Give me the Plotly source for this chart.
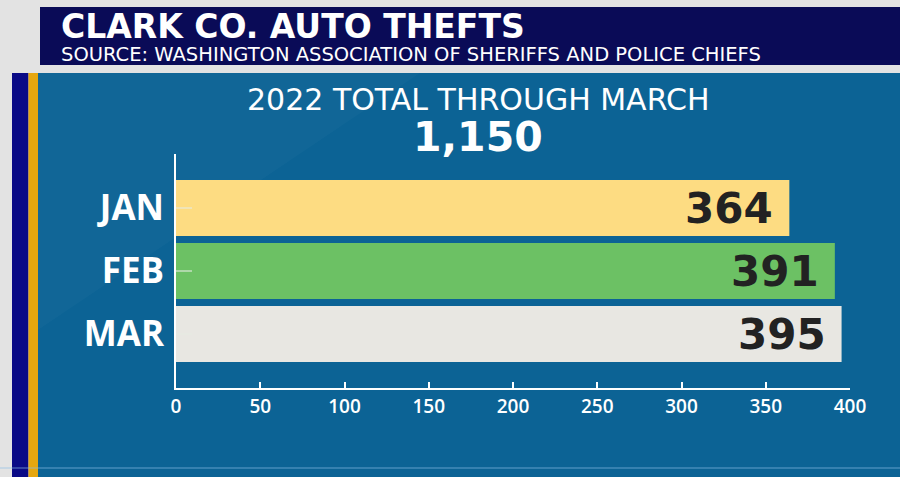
import plotly.graph_objects as go

# ---- data ----
months = ["JAN", "FEB", "MAR"]
thefts = [364, 391, 395]
bar_colors = ["#fddc82", "#6cc164", "#e8e7e2"]
total_label = "1,150"
x_ticks = [0, 50, 100, 150, 200, 250, 300, 350, 400]

title = "CLARK CO. AUTO THEFTS"
subtitle = "SOURCE: WASHINGTON ASSOCIATION OF SHERIFFS AND POLICE CHIEFS"
headline = "2022 TOTAL THROUGH MARCH"

W, H = 900, 477
ML, MR, MT, MB = 176, 50, 154, 89
PW, PH = W - ML - MR, H - MT - MB


def px(x):
    return (x - ML) / PW


def py(y):
    return (H - MB - y) / PH


fig = go.Figure()
fig.add_trace(go.Bar(
    x=thefts, y=months, orientation="h",
    marker=dict(color=bar_colors, line=dict(width=0)),
    hoverinfo="skip",
))

shapes = []
def rect(x0, y0, x1, y1, color):
    shapes.append(dict(type="rect", xref="paper", yref="paper",
                       x0=px(x0), x1=px(x1), y0=py(y1), y1=py(y0),
                       fillcolor=color, line=dict(width=0), layer="below"))

# blue panel
rect(38, 73, 900, 477, "#0c6395")
# subtle diagonal lighter region
shapes.append(dict(type="path", xref="paper", yref="paper",
                   path=f"M {px(38)},{py(73)} L {px(420)},{py(73)} L {px(38)},{py(330)} Z",
                   fillcolor="rgba(255,255,255,0.025)", line=dict(width=0), layer="below"))
# left stripes
rect(12, 73, 28.5, 477, "#0a0a86")
rect(28.5, 73, 38, 477, "#e6a70f")
# header bar
rect(40, 7, 900, 65, "#0a0b57")
# bottom faint line
shapes.append(dict(type="line", xref="paper", yref="paper",
                   x0=px(0), x1=px(900), y0=py(468), y1=py(468),
                   line=dict(color="rgba(140,190,230,0.45)", width=1.5), layer="below"))

annotations = [
    dict(xref="paper", yref="paper", x=px(59), y=py(26), text=f"<b>{title}</b>",
         showarrow=False, xanchor="left", yanchor="middle",
         font=dict(family="DejaVu Sans", size=33, color="white")),
    dict(xref="paper", yref="paper", x=px(59), y=py(55), text=subtitle,
         showarrow=False, xanchor="left", yanchor="middle",
         font=dict(family="DejaVu Sans", size=19.5, color="white")),
    dict(xref="paper", yref="paper", x=px(478), y=py(100), text=headline,
         showarrow=False, xanchor="center", yanchor="middle",
         font=dict(family="DejaVu Sans", size=30, color="white")),
    dict(xref="paper", yref="paper", x=px(478), y=py(137), text=f"<b>{total_label}</b>",
         showarrow=False, xanchor="center", yanchor="middle",
         font=dict(family="DejaVu Sans", size=41, color="white")),
]
for m, v in zip(months, thefts):
    annotations.append(dict(
        x=v, y=m, xref="x", yref="y", text=f"<b>{v}</b>", showarrow=False,
        xanchor="right", yanchor="middle", xshift=-14, yshift=0,
        font=dict(family="DejaVu Sans", size=42, color="#222222")))

fig.update_layout(
    width=W, height=H, autosize=False,
    margin=dict(l=ML, r=MR, t=MT, b=MB, pad=0),
    paper_bgcolor="#e3e3e3", plot_bgcolor="rgba(0,0,0,0)",
    showlegend=False, bargap=0.11,
    shapes=shapes, annotations=annotations,
    xaxis=dict(range=[0, 400], tickvals=x_ticks, ticks="inside", ticklen=6,
               tickwidth=2, tickcolor="white", showline=True, linecolor="white",
               linewidth=2, showgrid=False, zeroline=False,
               tickfont=dict(family="Open Sans", size=19, color="white", weight=600)),
    yaxis=dict(categoryorder="array", categoryarray=months, autorange=False,
               range=[2.857, -0.857], ticks="inside", ticklen=16, tickwidth=1.5,
               tickcolor="rgba(230,235,225,0.55)", showline=True, linecolor="white",
               linewidth=2, showgrid=False, zeroline=False, ticklabelstandoff=3,
               tickfont=dict(family="Open Sans", size=35, color="white", weight=700)),
)

fig.write_html("out.html")
